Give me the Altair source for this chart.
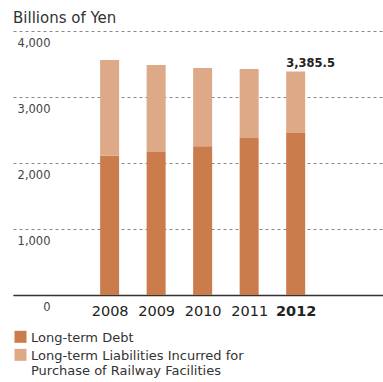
import altair as alt
import pandas as pd

years = [2008, 2009, 2010, 2011, 2012]
long_term_debt = [2110, 2165, 2255, 2378, 2453]
railway_liabilities = [1450, 1321, 1185, 1047, 932.5]
series_names = ["Long-term Debt",
                "Long-term Liabilities Incurred for Purchase of Railway Facilities"]
y_ticks = [0, 1000, 2000, 3000, 4000]
highlight_year = 2012

rows = []
for i, yr in enumerate(years):
    rows.append({"year": yr, "series": series_names[0], "value": long_term_debt[i], "ord": 0})
    rows.append({"year": yr, "series": series_names[1], "value": railway_liabilities[i], "ord": 1})
df = pd.DataFrame(rows)
tot = pd.DataFrame({"year": years,
                    "total": [a + b for a, b in zip(long_term_debt, railway_liabilities)]})
tot = tot[tot["year"] == highlight_year]

FONT = "DejaVu Sans"
xscale = alt.Scale(domain=[2006.03, 2013.77], nice=False, zero=False)
yscale = alt.Scale(domain=[0, 4000], nice=False)

bars = alt.Chart(df).mark_bar(size=19).encode(
    x=alt.X("year:Q", scale=xscale,
            axis=alt.Axis(values=years, format="d", title=None, grid=False,
                          ticks=False, tickSize=0, labelPadding=9,
                          labelFontSize=14.5, labelFont=FONT, labelColor="#222",
                          labelFontWeight=alt.expr("datum.value == 2012 ? 'bold' : 'normal'"),
                          domainColor="#333", domainWidth=1.3)),
    y=alt.Y("value:Q", stack="zero", scale=yscale,
            axis=alt.Axis(values=y_ticks, format=",d", title=None, domain=False,
                          ticks=False, tickSize=0, labelAlign="right",
                          labelBaseline="top", labelPadding=-37, labelOffset=6,
                          labelFontSize=11.5, labelFont=FONT, labelColor="#444",
                          gridColor="#888", gridDash=[3, 3], gridWidth=1)),
    color=alt.Color("series:N",
                    scale=alt.Scale(domain=series_names, range=["#CB7C4C", "#DEA987"]),
                    legend=alt.Legend(title=None, orient="none", legendX=1, legendY=304,
                                      symbolType="M-1,-1.78H1V0.22H-1Z", symbolSize=144,
                                      symbolStrokeWidth=0, symbolOpacity=1,
                                      labelFont=FONT, labelFontSize=13, labelColor="#333",
                                      labelLimit=400, rowPadding=3, labelOffset=4,
                                      labelBaseline="alphabetic",
                                      labelExpr="indexof(datum.label, ' Purchase') > 0 ? [substring(datum.label, 0, indexof(datum.label, ' Purchase')), substring(datum.label, indexof(datum.label, ' Purchase') + 1)] : datum.label")),
    order=alt.Order("ord:Q"),
)

label = alt.Chart(tot).mark_text(align="left", baseline="alphabetic", dx=-9.5, dy=-5,
                                 font=FONT, fontSize=11.5, fontWeight="bold",
                                 color="#222").encode(
    x=alt.X("year:Q", scale=xscale),
    y=alt.Y("total:Q", scale=yscale),
    text=alt.Text("total:Q", format=",.1f"),
)

chart = (bars + label).properties(
    width=370, height=264,
    title=alt.TitleParams("Billions of Yen", anchor="start", fontSize=15, font=FONT,
                          fontWeight="normal", color="#333", offset=5),
    padding={"left": 13, "top": 31, "right": 0, "bottom": 87},
    autosize=alt.AutoSizeParams(type="none"),
).configure_view(stroke=None)

chart.save("out.html", embed_options={"renderer": "svg", "actions": False})
